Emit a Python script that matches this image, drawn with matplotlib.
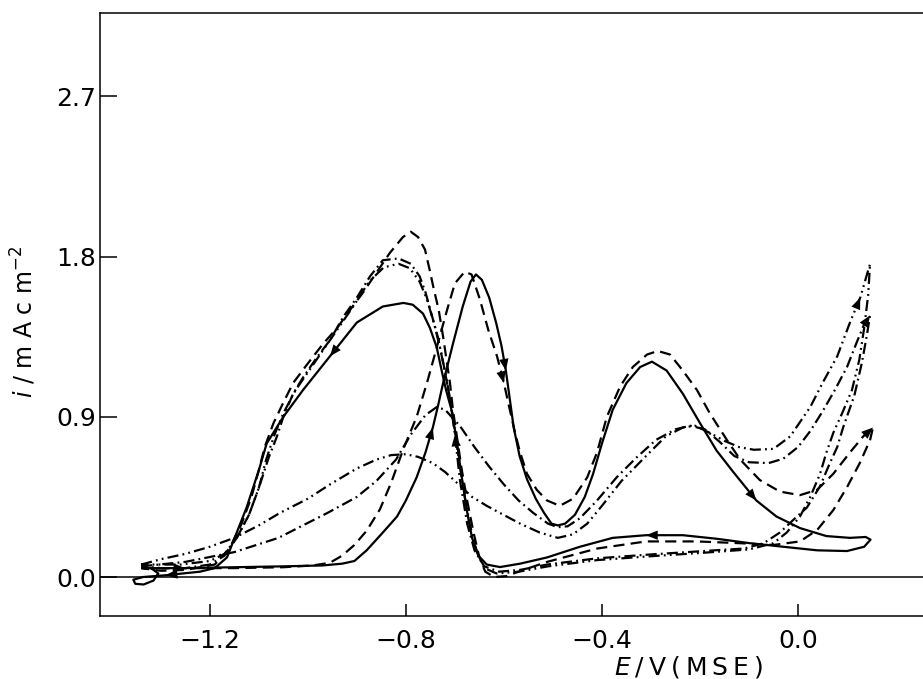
import matplotlib
matplotlib.use("Agg")
import matplotlib.pyplot as plt

plt.rcParams['font.family'] = ['DejaVu Sans']
plt.rcParams['lines.scale_dashes'] = False
plt.rcParams['mathtext.fontset'] = 'dejavusans'

# ---------------- data (E / V vs MSE, i / mA cm^-2) ----------------
solid_E = [-1.32, -1.25, -1.15, -1.05, -0.97, -0.93, -0.905, -0.88, -0.847, -0.818,
           -0.80, -0.778, -0.76, -0.745, -0.735, -0.724, -0.704, -0.684, -0.668, -0.657,
           -0.645, -0.63, -0.616, -0.605, -0.596, -0.588, -0.58, -0.568, -0.553, -0.535,
           -0.518, -0.503, -0.49, -0.475, -0.455, -0.435, -0.418, -0.40, -0.378, -0.35,
           -0.322, -0.298, -0.268, -0.235, -0.20, -0.166, -0.132, -0.085, -0.044, 0.004,
           0.058, 0.106, 0.138, 0.148, 0.135, 0.10, 0.039, -0.03, -0.098, -0.166,
           -0.235, -0.31, -0.378, -0.445, -0.512, -0.567, -0.608, -0.635, -0.652, -0.665,
           -0.676, -0.687, -0.697, -0.707, -0.718, -0.727, -0.737, -0.751, -0.765, -0.786,
           -0.805, -0.847, -0.90, -0.955, -1.01, -1.05, -1.084, -1.10, -1.125, -1.145,
           -1.165, -1.19, -1.22, -1.29, -1.336, -1.356, -1.352, -1.335, -1.315, -1.305,
           -1.32]
solid_i = [0.05, 0.05, 0.055, 0.06, 0.065, 0.075, 0.09, 0.15, 0.25, 0.34,
           0.43, 0.56, 0.70, 0.84, 0.955, 1.09, 1.31, 1.52, 1.66, 1.70,
           1.67, 1.57, 1.43, 1.30, 1.16, 1.00, 0.84, 0.68, 0.55, 0.44,
           0.36, 0.30, 0.29, 0.30, 0.35, 0.45, 0.58, 0.75, 0.94, 1.09,
           1.18, 1.21, 1.16, 1.03, 0.865, 0.71, 0.59, 0.43, 0.34, 0.275,
           0.23, 0.22, 0.225, 0.21, 0.17, 0.146, 0.15, 0.17, 0.19, 0.215,
           0.235, 0.235, 0.22, 0.17, 0.11, 0.075, 0.056, 0.07, 0.12, 0.22,
           0.38, 0.58, 0.78, 0.94, 1.05, 1.16, 1.29, 1.40, 1.48, 1.53,
           1.54, 1.52, 1.43, 1.24, 1.05, 0.90, 0.75, 0.60, 0.39, 0.25,
           0.11, 0.05, 0.03, 0.01, 0.0, -0.015, -0.038, -0.042, -0.02, 0.02,
           0.05]

dashed_E = [-1.34, -1.25, -1.15, -1.05, -0.99, -0.955, -0.93, -0.905, -0.88, -0.853,
            -0.83, -0.805, -0.778, -0.757, -0.737, -0.716, -0.70, -0.68, -0.666, -0.649,
            -0.632, -0.614, -0.60, -0.588, -0.578, -0.568, -0.553, -0.533, -0.512, -0.486,
            -0.459, -0.43, -0.41, -0.39, -0.363, -0.337, -0.308, -0.286, -0.261, -0.235,
            -0.206, -0.18, -0.145, -0.118, -0.078, -0.037, 0.004, 0.039, 0.072, 0.106,
            0.133, 0.153, 0.147, 0.126, 0.10, 0.072, 0.039, 0.004, -0.05, -0.118,
            -0.206, -0.31, -0.41, -0.512, -0.565, -0.595, -0.62, -0.638, -0.65, -0.662,
            -0.675, -0.687, -0.697, -0.704, -0.71, -0.716, -0.724, -0.733, -0.744, -0.751,
            -0.761, -0.775, -0.79, -0.806, -0.833, -0.86, -0.887, -0.914, -0.94, -0.969,
            -1.0, -1.03, -1.05, -1.07, -1.088, -1.10, -1.115, -1.135, -1.16, -1.19,
            -1.25, -1.30, -1.34]
dashed_i = [0.05, 0.05, 0.05, 0.055, 0.065, 0.08, 0.12, 0.18, 0.26, 0.38,
            0.53, 0.72, 0.90, 1.09, 1.29, 1.50, 1.65, 1.715, 1.70, 1.56,
            1.39, 1.24, 1.09, 0.94, 0.82, 0.71, 0.58, 0.49, 0.43, 0.40,
            0.44, 0.56, 0.70, 0.90, 1.07, 1.18, 1.25, 1.27, 1.25, 1.16,
            1.05, 0.92, 0.77, 0.66, 0.545, 0.48, 0.46, 0.49, 0.58, 0.70,
            0.79, 0.84, 0.77, 0.64, 0.505, 0.376, 0.264, 0.20, 0.18, 0.19,
            0.20, 0.20, 0.16, 0.085, 0.035, 0.005, 0.0, 0.03, 0.11, 0.25,
            0.43, 0.62, 0.81, 0.94, 1.09, 1.20, 1.35, 1.50, 1.63, 1.72,
            1.84, 1.91, 1.94, 1.91, 1.82, 1.71, 1.60, 1.50, 1.40, 1.31,
            1.20, 1.09, 0.98, 0.865, 0.73, 0.60, 0.45, 0.30, 0.16, 0.07,
            0.04, 0.035, 0.05]

dashdot_E = [-1.34, -1.25, -1.15, -1.06, -0.96, -0.90, -0.86, -0.82, -0.79, -0.76,
             -0.737, -0.72, -0.69, -0.66, -0.63, -0.60, -0.57, -0.54, -0.51, -0.49,
             -0.47, -0.445, -0.41, -0.37, -0.33, -0.29, -0.25, -0.22, -0.19, -0.16,
             -0.13, -0.10, -0.06, -0.03, 0.0, 0.025, 0.05, 0.075, 0.10, 0.12,
             0.135, 0.147, 0.14, 0.13, 0.115, 0.092, 0.08, 0.065, 0.045, 0.018,
             -0.01, -0.037, -0.07, -0.11, -0.17, -0.31, -0.41, -0.512, -0.567, -0.61,
             -0.64, -0.66, -0.675, -0.69, -0.70, -0.71, -0.72, -0.735, -0.75, -0.76,
             -0.772, -0.79, -0.815, -0.847, -0.873, -0.90, -0.928, -0.955, -0.98, -1.01,
             -1.03, -1.05, -1.063, -1.08, -1.10, -1.12, -1.145, -1.17, -1.20, -1.25,
             -1.30, -1.34]
dashdot_i = [0.06, 0.085, 0.14, 0.22, 0.36, 0.45, 0.54, 0.66, 0.80, 0.91,
             0.955, 0.94, 0.85, 0.73, 0.62, 0.52, 0.43, 0.36, 0.30, 0.28,
             0.285, 0.33, 0.43, 0.56, 0.67, 0.77, 0.83, 0.85, 0.83, 0.76,
             0.68, 0.645, 0.64, 0.665, 0.73, 0.82, 0.93, 1.05, 1.18, 1.32,
             1.42, 1.47, 1.35, 1.20, 1.02, 0.84, 0.73, 0.64, 0.51, 0.39,
             0.32, 0.25, 0.19, 0.16, 0.15, 0.125, 0.105, 0.07, 0.04, 0.03,
             0.06, 0.15, 0.30, 0.55, 0.80, 1.00, 1.15, 1.35, 1.50, 1.60,
             1.69, 1.76, 1.79, 1.78, 1.69, 1.57, 1.46, 1.33, 1.24, 1.12,
             1.03, 0.90, 0.79, 0.67, 0.50, 0.35, 0.22, 0.12, 0.07, 0.05,
             0.05, 0.06]

dashdotdot_E = [-1.34, -1.30, -1.25, -1.20, -1.15, -1.10, -1.057, -1.0, -0.955, -0.90,
                -0.86, -0.83, -0.80, -0.775, -0.745, -0.72, -0.70, -0.665, -0.635, -0.608,
                -0.567, -0.527, -0.49, -0.459, -0.43, -0.40, -0.36, -0.31, -0.27, -0.235,
                -0.21, -0.18, -0.15, -0.12, -0.09, -0.05, -0.016, 0.025, 0.05, 0.08,
                0.106, 0.127, 0.147, 0.143, 0.135, 0.125, 0.11, 0.09, 0.072, 0.058,
                0.045, 0.025, 0.004, -0.023, -0.05, -0.10, -0.20, -0.31, -0.41, -0.51,
                -0.57, -0.615, -0.64, -0.655, -0.67, -0.683, -0.695, -0.705, -0.715, -0.727,
                -0.742, -0.757, -0.772, -0.792, -0.815, -0.845, -0.875, -0.905, -0.935, -0.965,
                -0.995, -1.025, -1.05, -1.068, -1.085, -1.10, -1.12, -1.145, -1.17, -1.20,
                -1.26, -1.34]
dashdotdot_i = [0.07, 0.10, 0.13, 0.17, 0.22, 0.29, 0.36, 0.44, 0.52, 0.61,
                0.66, 0.685, 0.69, 0.675, 0.64, 0.59, 0.54, 0.45, 0.40, 0.36,
                0.30, 0.25, 0.22, 0.24, 0.30, 0.40, 0.54, 0.68, 0.79, 0.84,
                0.85, 0.81, 0.765, 0.73, 0.715, 0.72, 0.79, 0.955, 1.09, 1.24,
                1.43, 1.57, 1.76, 1.58, 1.40, 1.22, 1.05, 0.92, 0.81, 0.70,
                0.58, 0.45, 0.34, 0.25, 0.19, 0.155, 0.135, 0.115, 0.095, 0.06,
                0.03, 0.02, 0.05, 0.14, 0.30, 0.50, 0.72, 0.92, 1.08, 1.25,
                1.42, 1.56, 1.66, 1.735, 1.76, 1.74, 1.66, 1.53, 1.41, 1.29,
                1.17, 1.05, 0.92, 0.80, 0.66, 0.50, 0.35, 0.22, 0.13, 0.09,
                0.07, 0.07]

# arrowheads: index of the point the arrow points to (direction from previous point)
solid_arrows = [1, 13, 24, 47, 61, 83, 93]
dashed_arrows = [22, 51]
dashdot_arrows = [41, 64]
dashdotdot_arrows = [41]

x_ticks = [-1.2, -0.8, -0.4, 0.0]
x_ticklabels = ['\u22121.2', '\u22120.8', '\u22120.4', '0.0']
y_ticks = [0.0, 0.9, 1.8, 2.7]
y_ticklabels = ['0.0', '0.9', '1.8', '2.7']

# ---------------- figure ----------------
fig = plt.figure(figsize=(9.23, 6.79), dpi=100)
ax = fig.add_axes([100 / 923, 1 - 616 / 679, 1 - 100 / 923, (616 - 13) / 679])
ax.set_xlim(-1.424, 0.255)
ax.set_ylim(-0.219, 3.169)

lw = 1.6
styles = [
    (solid_E, solid_i, '-', solid_arrows),
    (dashed_E, dashed_i, (0, (8, 4.5)), dashed_arrows),
    (dashdot_E, dashdot_i, (0, (8, 3, 1.3, 3)), dashdot_arrows),
    (dashdotdot_E, dashdotdot_i, (0, (8, 3, 1.3, 3, 1.3, 3)), dashdotdot_arrows),
]
for E, I, ls, arrows in styles:
    ax.plot(E, I, color='black', lw=lw, ls=ls, solid_joinstyle='round')
    for k in arrows:
        ax.annotate('', xy=(E[k], I[k]), xytext=(E[k - 1], I[k - 1]),
                    arrowprops=dict(arrowstyle='-|>,head_length=0.7,head_width=0.28',
                                    color='black', lw=0, shrinkA=0, shrinkB=0,
                                    mutation_scale=12))

ax.axhline(0.0, color='black', lw=1.1)

for s in ['right']:
    ax.spines[s].set_visible(False)
for s in ['left', 'top', 'bottom']:
    ax.spines[s].set_linewidth(1.1)

ax.set_xticks(x_ticks)
ax.set_xticklabels(x_ticklabels)
ax.set_yticks(y_ticks)
ax.set_yticklabels(y_ticklabels)
ax.tick_params(axis='x', direction='in', length=9, width=1.1, pad=9, labelsize=18)
ax.tick_params(axis='y', direction='in', length=12, width=1.1, pad=3, labelsize=18)

fig.text(24 / 923, 1 - 322 / 679, r'$i$ / m A c m$^{-2}$', rotation=90,
         ha='center', va='center', fontsize=17)
fig.text(688 / 923, 1 - 675 / 679, '$E$\u2009/\u2009V\u2009(\u2009M\u2009S\u2009E\u2009)',
         ha='center', va='baseline', fontsize=18)

fig.savefig('out.png', dpi=100)
